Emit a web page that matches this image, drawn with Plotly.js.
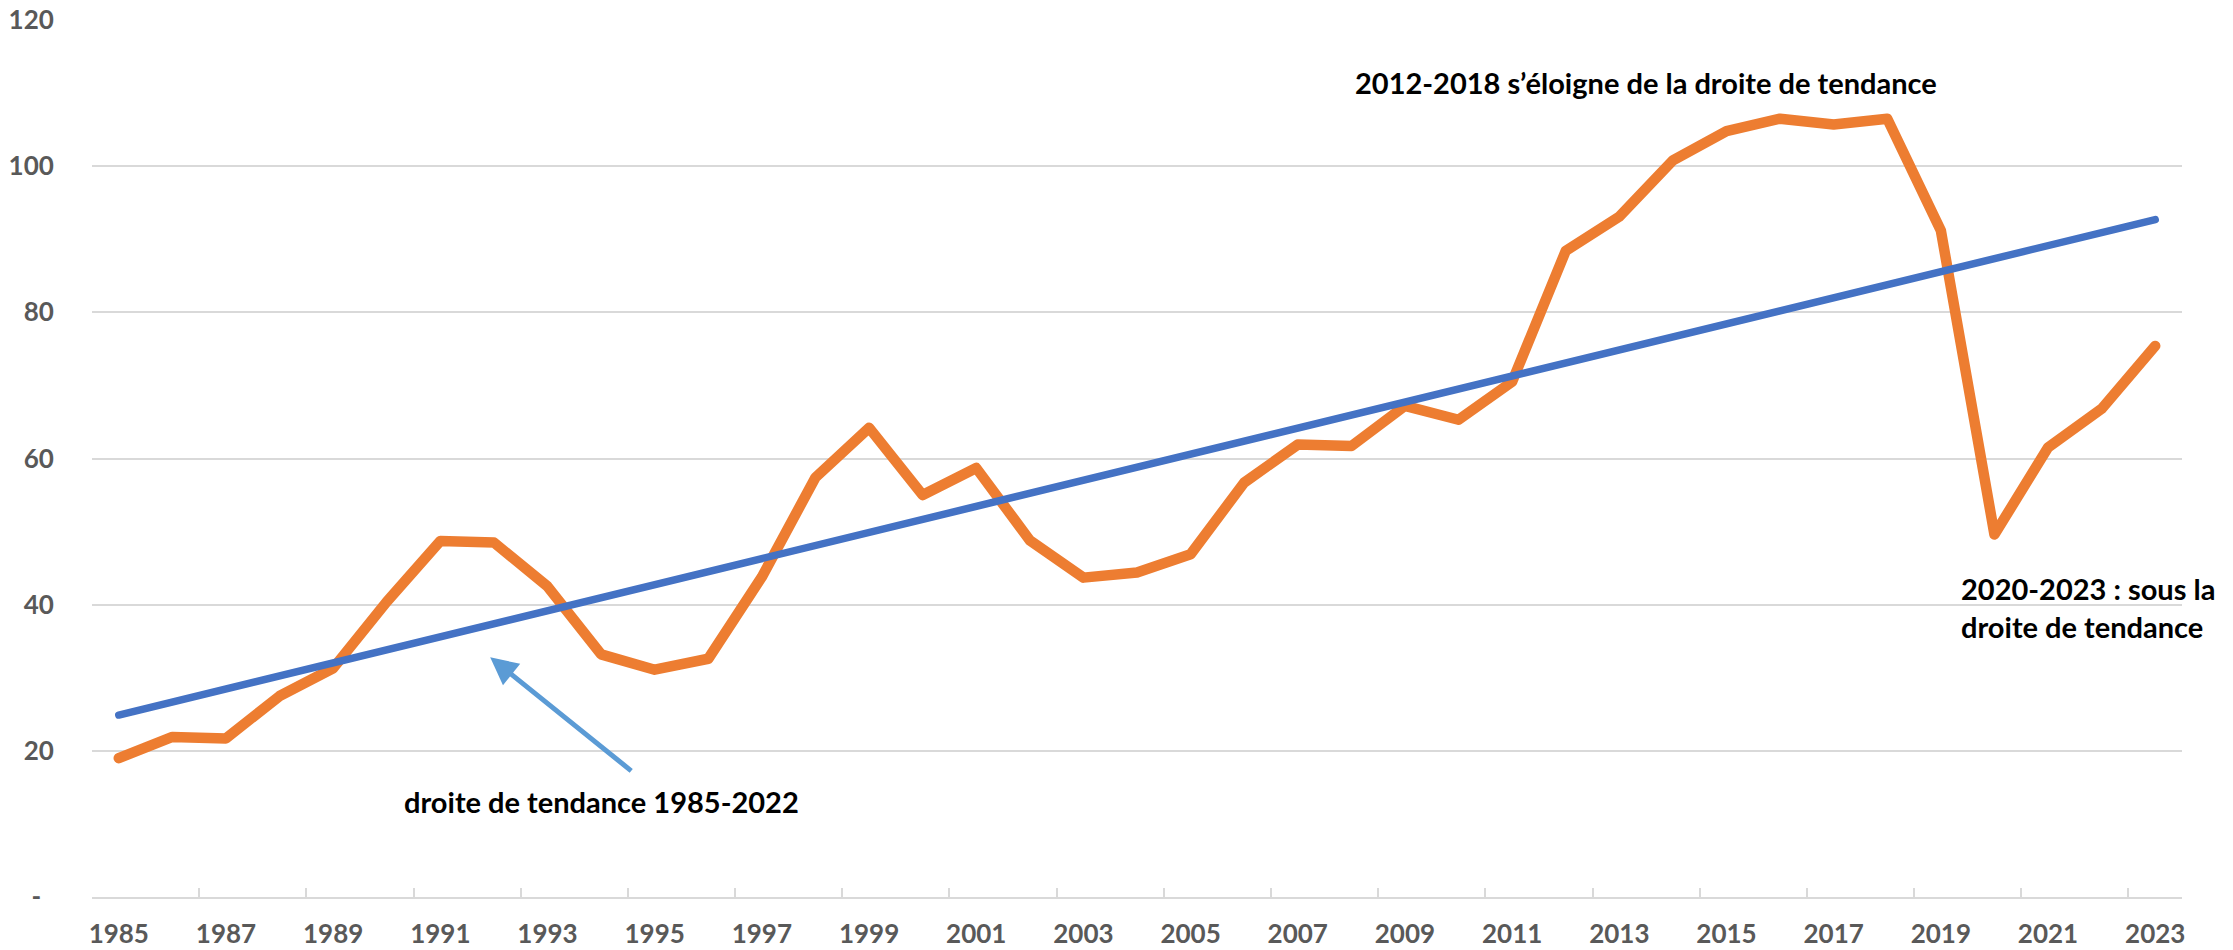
<!DOCTYPE html>
<html>
<head>
<meta charset="utf-8">
<script src="https://cdn.plot.ly/plotly-3.0.1.min.js"></script>
<style>
  html, body { margin: 0; padding: 0; background: #ffffff; }
  #chart { width: 2233px; height: 950px; }
  .scatterlayer path.js-line { stroke-linecap: round; stroke-linejoin: round; }
</style>
</head>
<body>
<div id="chart"></div>
<script>
// ---- data ----
const years = [1985, 1986, 1987, 1988, 1989, 1990, 1991, 1992, 1993, 1994,
               1995, 1996, 1997, 1998, 1999, 2000, 2001, 2002, 2003, 2004,
               2005, 2006, 2007, 2008, 2009, 2010, 2011, 2012, 2013, 2014,
               2015, 2016, 2017, 2018, 2019, 2020, 2021, 2022, 2023];
const values = [19.0, 21.9, 21.7, 27.5, 31.3, 40.4, 48.7, 48.5, 42.5, 33.2,
                31.1, 32.6, 43.8, 57.4, 64.2, 55.0, 58.7, 48.8, 43.7, 44.4,
                46.9, 56.7, 61.9, 61.7, 67.2, 65.3, 70.5, 88.4, 93.1, 100.8,
                104.8, 106.5, 105.7, 106.5, 91.2, 49.6, 61.5, 66.8, 75.4];
const trendYears = [1985, 2023];
const trendValues = [24.9, 92.7];
const yTickVals = [0, 20, 40, 60, 80, 100, 120];
const yTickText = ['-\u00a0\u00a0', '20', '40', '60', '80', '100', '120'];
const xLabelYears = years.filter(y => y % 2 === 1);

// ---- derived ----
const xRange = [years[0] - 0.5, years[years.length - 1] + 0.5];
const boundaryTicks = xLabelYears.map(y => y - 0.5);

const FONT = 'Lato, "Open Sans", "Noto Sans", sans-serif';

const traces = [
  {
    x: years, y: values, type: 'scatter', mode: 'lines',
    line: { color: '#ED7D31', width: 10.5 },
    xaxis: 'x', yaxis: 'y', hoverinfo: 'x+y', showlegend: false
  },
  {
    x: trendYears, y: trendValues, type: 'scatter', mode: 'lines',
    line: { color: '#4472C4', width: 7.5 },
    xaxis: 'x2', yaxis: 'y', hoverinfo: 'skip', showlegend: false
  }
];

const layout = {
  width: 2233, height: 950,
  margin: { l: 92, r: 51, t: 20, b: 53, pad: 0 },
  paper_bgcolor: '#ffffff', plot_bgcolor: '#ffffff',
  font: { family: FONT, color: '#595959' },
  showlegend: false,
  xaxis: {
    range: xRange, type: 'linear',
    tickmode: 'array', tickvals: xLabelYears, ticktext: xLabelYears.map(String),
    ticks: 'outside', ticklen: 13, tickcolor: 'rgba(0,0,0,0)',
    tickfont: { family: FONT, size: 26, color: '#595959', weight: 'bold' },
    showgrid: false, zeroline: false,
    showline: true, linecolor: '#D9D9D9', linewidth: 2
  },
  xaxis2: {
    range: xRange, type: 'linear', overlaying: 'x', anchor: 'y', side: 'bottom',
    tickmode: 'array', tickvals: boundaryTicks,
    ticks: 'inside', ticklen: 9, tickcolor: '#D9D9D9', tickwidth: 2,
    showticklabels: false, showgrid: false, zeroline: false, showline: false
  },
  yaxis: {
    range: [0, 120], type: 'linear',
    tickmode: 'array', tickvals: yTickVals, ticktext: yTickText,
    ticks: 'outside', ticklen: 32, tickcolor: 'rgba(0,0,0,0)',
    tickfont: { family: FONT, size: 26, color: '#595959', weight: 'bold' },
    showgrid: true, gridcolor: '#D9D9D9', gridwidth: 2,
    zeroline: false, showline: false
  },
  annotations: [
    {
      xref: 'x', yref: 'y', x: 2008.03, y: 111.5,
      xanchor: 'left', yanchor: 'middle', showarrow: false,
      text: '2012-2018 s\u2019éloigne de la droite de tendance',
      font: { family: FONT, size: 29, color: '#000000', weight: 'bold' }
    },
    {
      xref: 'x', yref: 'y', x: 2019.33, y: 39.6,
      xanchor: 'left', yanchor: 'middle', align: 'left', showarrow: false,
      text: '2020-2023 : sous la<br>droite de tendance',
      font: { family: FONT, size: 29, color: '#000000', weight: 'bold' }
    },
    {
      xref: 'x', yref: 'y', x: 1994.01, y: 13.0,
      xanchor: 'center', yanchor: 'middle', showarrow: false,
      text: 'droite de tendance 1985-2022',
      font: { family: FONT, size: 29, color: '#000000', weight: 'bold' }
    },
    {
      xref: 'x', yref: 'y', x: 1991.93, y: 32.8,
      axref: 'x', ayref: 'y', ax: 1994.59, ay: 17.1,
      text: '', showarrow: true,
      arrowhead: 2, arrowsize: 1.1, arrowwidth: 5, arrowcolor: '#5B9BD5',
      standoff: 0, startstandoff: 0
    }
  ]
};

Plotly.newPlot('chart', traces, layout, { displayModeBar: false, staticPlot: true });
</script>
</body>
</html>
